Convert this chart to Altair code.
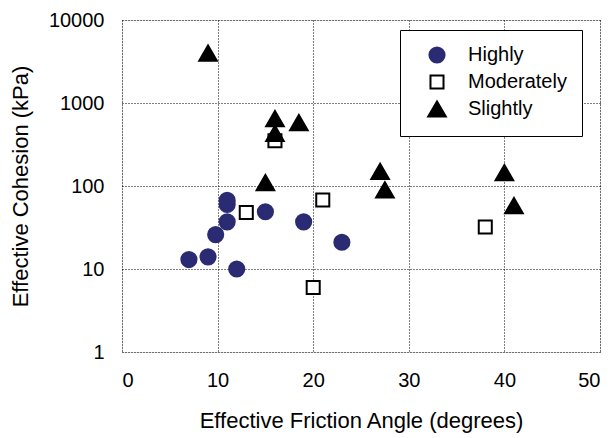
import altair as alt
import pandas as pd

highly_x = [7, 9, 9.8, 11, 11, 11, 12, 15, 19, 23]
highly_y = [13, 14, 26, 37, 60, 67, 10, 49, 37, 21]
moder_x = [13, 16, 20, 21, 38]
moder_y = [48, 350, 6, 68, 32]
slight_x = [9, 15, 16, 16, 18.5, 27, 27.5, 40, 41]
slight_y = [4000, 110, 650, 430, 580, 150, 90, 145, 58]

groups = ["Highly", "Moderately", "Slightly"]
rows = []
for g, xs, ys in [("Highly", highly_x, highly_y), ("Moderately", moder_x, moder_y), ("Slightly", slight_x, slight_y)]:
    for a, b in zip(xs, ys):
        rows.append({"angle": a, "cohesion": b, "group": g})
df = pd.DataFrame(rows)

FONT = "Liberation Sans"
leg = alt.Legend(title=None, orient="none", legendX=278, legendY=10,
                 fillColor="white", strokeColor="black", padding=15,
                 labelFont=FONT, labelFontSize=20, labelColor="black",
                 rowPadding=4, symbolStrokeWidth=2, labelOffset=21, symbolOffset=12,
                 labelLimit=200)

chart = alt.Chart(df).mark_point(filled=False, opacity=1, strokeWidth=2).encode(
    x=alt.X("angle:Q", scale=alt.Scale(domain=[0, 50], nice=False),
            axis=alt.Axis(values=[0, 10, 20, 30, 40, 50], title="Effective Friction Angle (degrees)",
                          grid=True, gridColor="black", gridDash=[1, 2], gridWidth=1,
                          ticks=False, domain=False, labelPadding=18, titlePadding=20,
                          labelFont=FONT, labelFontSize=20, labelColor="black",
                          titleFont=FONT, titleFontSize=22, titleFontWeight="normal", titleColor="black")),
    y=alt.Y("cohesion:Q", scale=alt.Scale(type="log", domain=[1, 10000], nice=False),
            axis=alt.Axis(values=[1, 10, 100, 1000, 10000], format="d", title="Effective Cohesion (kPa)",
                          grid=True, gridColor="black", gridDash=[1, 2], gridWidth=1,
                          ticks=False, domain=False, labelPadding=18, titlePadding=16,
                          labelFont=FONT, labelFontSize=20, labelColor="black",
                          titleFont=FONT, titleFontSize=22, titleFontWeight="normal", titleColor="black")),
    shape=alt.Shape("group:N", scale=alt.Scale(domain=groups, range=["circle", "square", "triangle-up"]), legend=leg),
    fill=alt.Fill("group:N", scale=alt.Scale(domain=groups, range=["#2a2b72", "white", "black"]), legend=leg),
    stroke=alt.Stroke("group:N", scale=alt.Scale(domain=groups, range=["#2a2b72", "black", "black"]), legend=leg),
    size=alt.Size("group:N", scale=alt.Scale(type="ordinal", domain=groups, range=[230, 170, 310]), legend=leg),
).properties(
    width=478, height=332,
    autosize=alt.AutoSizeParams(type="none"),
    padding={"left": 114, "top": 12, "right": 3, "bottom": 84},
).configure_view(stroke="black", strokeWidth=1.5).configure(background="white")

chart.save("out.html", embed_options={"renderer": "svg", "actions": False})
